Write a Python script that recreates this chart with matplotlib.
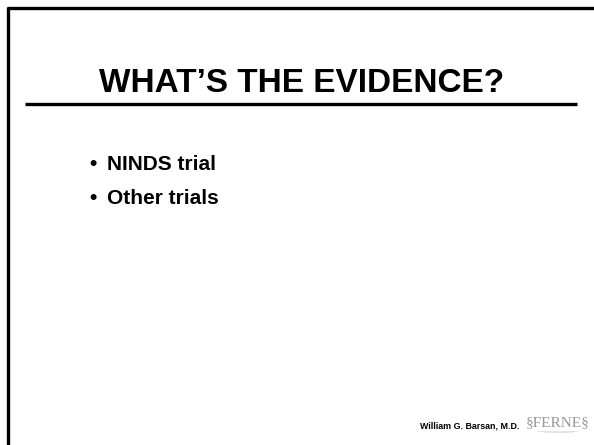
import matplotlib.pyplot as plt
from matplotlib.lines import Line2D

plt.rcParams['font.family'] = ['Liberation Sans', 'DejaVu Sans']

title = 'WHAT\u2019S THE EVIDENCE?'
bullets = ['NINDS trial', 'Other trials']
author = 'William G. Barsan, M.D.'
logo = 'FERNE'

W, H = 594, 445
fig = plt.figure(figsize=(W / 100, H / 100), dpi=100)
ax = fig.add_axes([0, 0, 1, 1])
ax.set_xlim(0, W)
ax.set_ylim(H, 0)
ax.axis('off')

# slide frame (top and left edges only)
ax.add_line(Line2D([7, W], [8, 8], color='black', lw=2.4, solid_capstyle='butt'))
ax.add_line(Line2D([8, 8], [7, H], color='black', lw=2.4, solid_capstyle='butt'))

# title and rule under it
ax.text(302, 83, title, ha='center', va='center', fontsize=24, fontweight='bold')
ax.add_line(Line2D([25, 577], [104, 104], color='black', lw=2.4, solid_capstyle='butt'))

# bullet list
for i, b in enumerate(bullets):
    y = 165 + i * 34
    ax.text(89, y, '\u2022', ha='left', va='center', fontsize=15, fontweight='bold')
    ax.text(107, y, b, ha='left', va='center', fontsize=15, fontweight='bold')

# footer
ax.text(519, 426, author, ha='right', va='center', fontsize=6.4, fontweight='bold')
ax.text(558, 423, '\u00a7' + logo + '\u00a7', ha='center', va='center', fontsize=11,
        family='Liberation Serif', color='#999999')
ax.text(558, 432, 'Foundation for Education and Research\nin Neurological Emergencies',
        ha='center', va='center', fontsize=1.6, color='#aaaaaa', linespacing=1.0)

fig.savefig('out.png', dpi=100)
